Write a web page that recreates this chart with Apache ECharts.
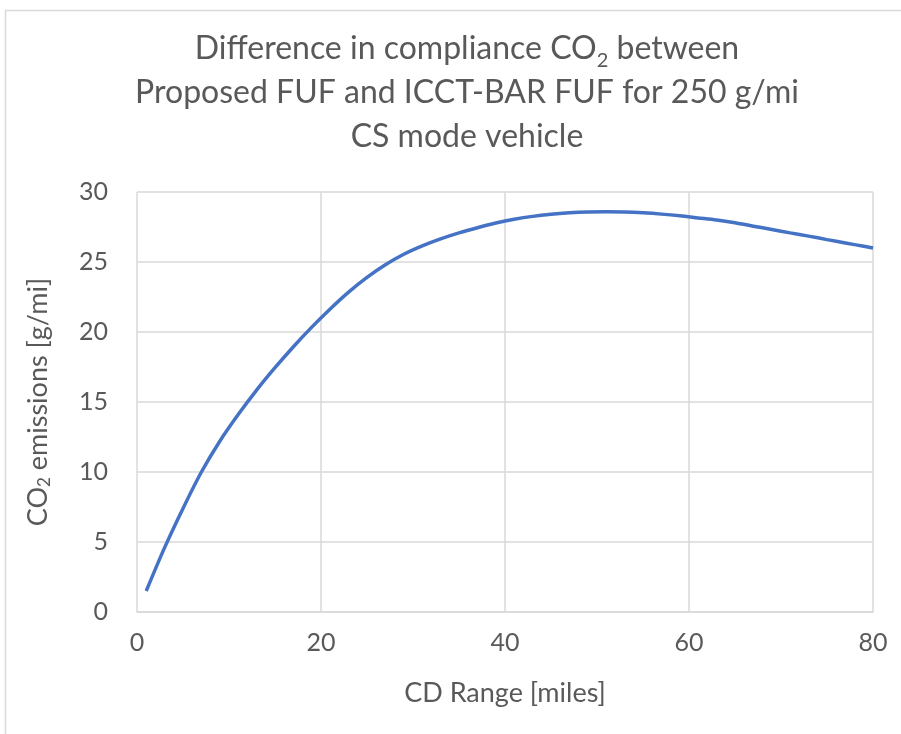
<!DOCTYPE html>
<html>
<head>
<meta charset="utf-8">
<script src="https://cdn.jsdelivr.net/npm/echarts@6/dist/echarts.min.js"></script>
<style>
  html, body { margin: 0; padding: 0; background: #fff; }
  #chart { width: 901px; height: 734px; }
</style>
</head>
<body>
<div id="chart"></div>
<script>
// CD range (miles) and the CO2 difference (g/mi) between the two FUF curves
const cdRange = [1, 3, 5, 7, 9, 11, 13, 15, 17, 19, 21, 23, 25, 27, 29, 31, 33, 35, 37, 39, 41, 43, 45, 47, 49, 51, 53, 55, 57, 59, 61, 63, 65, 67, 69, 71, 73, 75, 77, 79, 80];
const co2Diff = [1.5, 4.6, 7.4, 10.0, 12.2, 14.1, 15.85, 17.45, 18.95, 20.35, 21.65, 22.85, 23.9, 24.8, 25.55, 26.15, 26.65, 27.08, 27.45, 27.78, 28.05, 28.26, 28.41, 28.51, 28.57, 28.59, 28.57, 28.51, 28.42, 28.3, 28.15, 28.0, 27.8, 27.56, 27.32, 27.08, 26.85, 26.6, 26.36, 26.12, 26.0];

const xTicks = [0, 20, 40, 60, 80];
const yTicks = [0, 5, 10, 15, 20, 25, 30];

const textColor = '#595959';
const gridColor = '#d9d9d9';
const fontFamily = 'Lato, "Open Sans", sans-serif';

const chart = echarts.init(document.getElementById('chart'));

chart.setOption({
  animation: false,
  backgroundColor: '#fff',
  graphic: [{
    type: 'rect',
    shape: { x: 5.5, y: 10.5, width: 1000, height: 1000 },
    style: { fill: 'none', stroke: gridColor, lineWidth: 1.5 },
    silent: true
  }],
  title: {
    text: 'Difference in compliance CO{sub|2} between\nProposed FUF and ICCT-BAR FUF for 250 g/mi\nCS mode vehicle',
    left: 462,
    top: 22,
    textAlign: 'center',
    textStyle: {
      color: textColor,
      fontFamily: fontFamily,
      fontWeight: 'normal',
      fontSize: 32,
      lineHeight: 44,
      rich: {
        sub: { fontSize: 20, color: textColor, fontFamily: fontFamily, verticalAlign: 'bottom', padding: [14, 0, 0, 0], lineHeight: 44 }
      }
    }
  },
  grid: { left: 137, right: 28, top: 192, bottom: 122 },
  xAxis: {
    type: 'value',
    min: xTicks[0],
    max: xTicks[xTicks.length - 1],
    interval: 20,
    name: 'CD Range [miles]',
    nameLocation: 'middle',
    nameGap: 68,
    nameTextStyle: { color: textColor, fontFamily: fontFamily, fontSize: 27 },
    axisLine: { show: true, lineStyle: { color: gridColor, width: 1.5 } },
    axisTick: { show: false },
    axisLabel: { color: textColor, fontFamily: fontFamily, fontSize: 25, margin: 18 },
    splitLine: { show: true, lineStyle: { color: gridColor, width: 1.5 } }
  },
  yAxis: {
    type: 'value',
    min: yTicks[0],
    max: yTicks[yTicks.length - 1],
    interval: 5,
    name: 'CO{sub|2} emissions [g/mi]',
    nameLocation: 'middle',
    nameGap: 84,
    nameTextStyle: {
      color: textColor, fontFamily: fontFamily, fontSize: 27,
      rich: {
        sub: { fontSize: 17, color: textColor, fontFamily: fontFamily, verticalAlign: 'bottom', padding: [12, 0, 0, 0] }
      }
    },
    axisLine: { show: false },
    axisTick: { show: false },
    axisLabel: { color: textColor, fontFamily: fontFamily, fontSize: 25, margin: 29 },
    splitLine: { show: true, lineStyle: { color: gridColor, width: 1.5 } }
  },
  series: [{
    type: 'line',
    data: cdRange.map((x, i) => [x, co2Diff[i]]),
    smooth: 0.3,
    showSymbol: false,
    lineStyle: { color: '#4472C4', width: 3.5 },
    itemStyle: { color: '#4472C4' }
  }]
});
</script>
</body>
</html>
